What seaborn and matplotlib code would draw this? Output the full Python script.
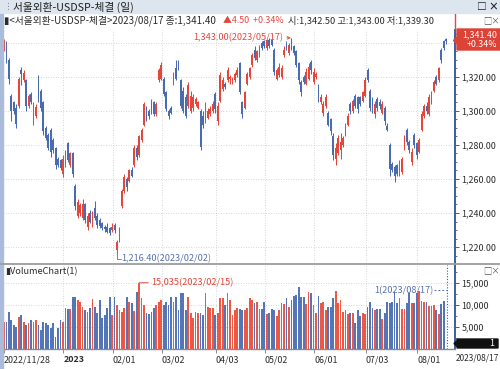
import numpy as np
import pandas as pd
import seaborn as sns
import matplotlib.pyplot as plt
from matplotlib.patches import Rectangle, Polygon
from matplotlib.lines import Line2D

# --- data (USD/KRW daily, 2022/11/28 - 2023/08/17) ---
holidays = ['2023-01-23', '2023-01-24', '2023-03-01', '2023-05-01',
            '2023-05-05', '2023-05-29', '2023-06-06', '2023-08-15']
dates = pd.bdate_range('2022-11-28', '2023-08-17').difference(pd.DatetimeIndex(holidays))

open_ = [
    1336, 1340, 1330, 1309, 1305, 1302, 1303, 1324, 1318, 1318,
    1303, 1310, 1294, 1297, 1320, 1312, 1305, 1290, 1286, 1289,
    1283, 1278, 1272, 1271, 1263, 1268, 1281, 1268, 1275, 1256,
    1238, 1240, 1237, 1245, 1232, 1240, 1233, 1243, 1238, 1236,
    1234, 1232, 1232, 1231, 1230, 1233, 1218, 1224, 1244, 1253,
    1260, 1259, 1265, 1268, 1278, 1274, 1283, 1292, 1302, 1300,
    1306, 1305, 1298, 1318, 1319, 1319, 1311, 1300, 1302, 1316,
    1325, 1329, 1318, 1312, 1308, 1303, 1300, 1302, 1304, 1302,
    1300, 1297, 1294, 1296, 1298, 1300, 1310, 1294, 1306, 1313,
    1316, 1318, 1319, 1318, 1318, 1321, 1328, 1305, 1302, 1316,
    1320, 1327, 1336, 1330, 1333, 1340, 1341, 1337, 1342, 1342,
    1336, 1319, 1321, 1320, 1333, 1339, 1334, 1342, 1338, 1335,
    1328, 1317, 1320, 1316, 1319, 1329, 1317, 1320, 1315, 1305,
    1299, 1303, 1299, 1295, 1285, 1272, 1275, 1277, 1280, 1286,
    1292, 1304, 1300, 1309, 1308, 1308, 1306, 1309, 1324, 1312,
    1306, 1298, 1307, 1305, 1299, 1302, 1291, 1280, 1269, 1267,
    1268, 1263, 1264, 1278, 1289, 1282, 1270, 1286, 1281, 1276,
    1289, 1297, 1303, 1298, 1305, 1312, 1320, 1318, 1336, 1341,
    1342.5]
high = [
    1342.6, 1341, 1331, 1310, 1306, 1304, 1320, 1326, 1324, 1319,
    1310, 1311, 1305, 1304, 1321, 1313, 1306, 1291, 1287, 1290,
    1284, 1279, 1273, 1272, 1274, 1277, 1282, 1276, 1276, 1257,
    1248, 1246, 1248, 1246, 1240, 1242, 1241, 1247, 1240, 1237,
    1235, 1233, 1234, 1232, 1234, 1234, 1224, 1232, 1254, 1263,
    1261, 1266, 1267, 1280, 1280, 1286, 1290, 1305, 1303, 1301,
    1307, 1306, 1305, 1325, 1329, 1320, 1312, 1301, 1303, 1323,
    1330, 1330, 1319, 1314, 1310, 1317, 1312, 1310, 1308, 1306,
    1301, 1300, 1305, 1302, 1303, 1306, 1311, 1305, 1323, 1320,
    1317, 1326, 1321, 1320, 1323, 1326, 1329, 1306, 1312, 1323,
    1326, 1334, 1338, 1336, 1339, 1341, 1342, 1342.6, 1342.8, 1342.5,
    1337, 1325, 1328, 1327, 1338, 1341, 1340, 1343, 1339, 1336,
    1329, 1318, 1321, 1325, 1328, 1330, 1325, 1323, 1316, 1310,
    1306, 1310, 1300, 1296, 1287, 1281, 1286, 1287, 1285, 1293,
    1299, 1305, 1307, 1310, 1309, 1309, 1312, 1320, 1325, 1313,
    1308, 1306, 1308, 1307, 1306, 1303, 1293, 1281, 1270, 1268,
    1269, 1271, 1273, 1286, 1290, 1283, 1278, 1287, 1282, 1284,
    1300, 1304, 1305, 1310, 1312, 1318, 1321, 1326, 1337, 1342,
    1343.0]
low = [
    1335, 1328, 1316, 1294, 1298, 1290, 1302, 1315, 1317, 1300,
    1302, 1304, 1292, 1296, 1305, 1300, 1286, 1283, 1277, 1273,
    1275, 1266, 1267, 1265, 1261, 1267, 1270, 1267, 1261, 1242,
    1237, 1238, 1236, 1234, 1230, 1234, 1232, 1236, 1231, 1231,
    1230, 1229, 1228, 1227, 1229, 1228, 1216.4, 1223, 1243, 1252,
    1253, 1258, 1261, 1267, 1271, 1273, 1282, 1291, 1294, 1295,
    1298, 1297, 1297, 1317, 1318, 1309, 1300, 1295, 1298, 1315,
    1318, 1324, 1302, 1299, 1296, 1302, 1299, 1300, 1303, 1301,
    1277, 1290, 1293, 1295, 1297, 1299, 1299, 1292, 1305, 1312,
    1313, 1317, 1316, 1316, 1317, 1320, 1310, 1296, 1301, 1315,
    1319, 1326, 1330, 1329, 1332, 1336, 1337, 1336, 1337, 1338,
    1321, 1318, 1320, 1319, 1332, 1336, 1333, 1336, 1333, 1326,
    1316, 1309, 1316, 1315, 1318, 1322, 1316, 1319, 1305, 1304,
    1297, 1302, 1291, 1286, 1271, 1268, 1274, 1272, 1279, 1285,
    1291, 1298, 1299, 1302, 1299, 1303, 1305, 1308, 1317, 1300,
    1299, 1296, 1300, 1301, 1298, 1292, 1288, 1262, 1264, 1258,
    1262, 1262, 1263, 1277, 1280, 1275, 1268, 1278, 1272, 1275,
    1288, 1296, 1298, 1297, 1304, 1311, 1315, 1317, 1328, 1336,
    1339.3]
close = [
    1340.2, 1329.3, 1318.8, 1299.7, 1299.9, 1292.6, 1318.8, 1321.7, 1322.5, 1302.9,
    1309.0, 1305.2, 1303.1, 1302.4, 1306.3, 1301.5, 1288.0, 1284.2, 1278.4, 1276.1,
    1277.0, 1268.3, 1268.5, 1266.2, 1272.0, 1275.3, 1271.4, 1275.0, 1263.2, 1244.0,
    1246.2, 1244.5, 1245.4, 1236.1, 1238.2, 1235.0, 1240.1, 1237.3, 1233.0, 1232.2,
    1231.1, 1230.4, 1229.1, 1228.3, 1232.0, 1230.0, 1223.0, 1230.2, 1252.8, 1261.0,
    1255, 1265, 1262, 1278, 1273, 1285, 1289, 1304, 1296, 1297,
    1299, 1298, 1304, 1324, 1327, 1310, 1301, 1297, 1299, 1322,
    1319, 1325, 1303, 1300, 1297, 1315, 1309, 1308, 1307, 1305,
    1279, 1292, 1303, 1300, 1301, 1304, 1301, 1303, 1321, 1318,
    1314, 1324, 1320, 1319, 1322, 1324, 1311, 1298, 1311, 1322,
    1325, 1333, 1331, 1335, 1338, 1337, 1338, 1342, 1338, 1339,
    1323, 1324, 1326, 1325, 1336, 1337, 1339, 1337, 1334, 1327,
    1318, 1311, 1317, 1323, 1326, 1324, 1323, 1322, 1307, 1308,
    1304, 1308, 1292, 1288, 1274, 1278, 1284, 1282, 1284, 1291,
    1297, 1300, 1306, 1303, 1301, 1304, 1311, 1318, 1318, 1302,
    1301, 1304, 1302, 1303, 1304, 1294, 1289, 1266, 1265, 1262,
    1263, 1269, 1272, 1284, 1282, 1277, 1276, 1280, 1274, 1283,
    1298, 1303, 1300, 1308, 1311, 1317, 1316, 1325, 1330, 1336.9,
    1341.4]
volume = [
    6200, 6050, 8470, 6580, 5450, 5070, 7340, 7720, 6200, 5450,
    5830, 6580, 6200, 6580, 5450, 4310, 6200, 5980, 5450, 4690,
    5830, 2800, 4690, 6580, 6200,
    9230, 9000, 9000, 11880, 11880, 11130, 10750, 9610, 8850, 8470,
    9230, 11280, 9610, 8100, 11130, 6960, 7720, 9230, 11730, 7720,
    11730, 10000, 8850, 8470, 9230, 11730, 10750, 10370, 8700, 12870,
    15035, 11500, 10000, 8100, 7950, 8470, 9230, 9990, 10600, 11130,
    9990, 10750, 9990, 11730, 10750, 11730, 8850, 12640, 12640, 8850,
    11880, 8100, 6960, 8470, 8100, 8250, 7720, 12640, 9610, 9230,
    9230, 7720,
    8100, 11650, 11500, 9990, 12640, 11130, 7720, 8850, 9230, 9000,
    8850, 8850, 9230,
    11500, 11130, 10520, 10750, 9000, 9000, 10750, 7870, 8250, 9000,
    8850, 7570, 8850, 10370, 10220, 11500, 9610, 11130, 12040, 12260,
    14000, 11880, 11730, 10140, 13040, 12640, 9990, 8250, 12040, 10370,
    10750, 8850, 9610, 9610, 11500, 13270, 10370, 11130, 8470, 8850,
    7950, 8100, 8250, 6000, 8850, 7570, 8100, 7950, 9610, 10750,
    9230, 8850, 9000, 9000, 6730, 8100, 10600, 10370, 10750, 12870,
    10370, 11500, 9000, 9000, 10370, 12640, 10520, 10520, 12640, 13170,
    10900, 10750, 10750, 9840, 9760, 9990, 8780, 7870, 10140, 10900,
    1]

tick_dates = ['2022-11-28', '2023-01-02', '2023-02-01', '2023-03-02', '2023-04-03',
              '2023-05-02', '2023-06-01', '2023-07-03', '2023-08-01']
tick_labels = ['2022/11/28', '2023', '02/01', '03/02', '04/03',
               '05/02', '06/01', '07/03', '08/01']
price_ticks = [1220, 1240, 1260, 1280, 1300, 1320, 1340]
vol_ticks = [5000, 10000, 15000]

o, h, l, c, v = (np.array(a, dtype=float) for a in (open_, high, low, close, volume))
n = len(c)
idx = np.arange(n)

RED = '#e4463b'
BLUE = '#4a6bb0'
RED_V = '#ec5846'
BLUE_V = '#5475b8'
AXIS_BLUE = '#3d5d9e'
GRID = '#c9c9c9'
TXT = '#2b2b2b'

sns.set_style('white')
plt.rcParams['font.family'] = ['Noto Sans CJK KR', 'DejaVu Sans']
plt.rcParams['axes.unicode_minus'] = False

W, H = 500, 369
fig = plt.figure(figsize=(W / 100, H / 100), dpi=100)


def fx(x):
    return x / W


def fy(y):
    return 1 - y / H


ax = fig.add_axes([fx(3), fy(263), 452 / W, (263 - 30) / H])
vax = fig.add_axes([fx(3), fy(349), 452 / W, (349 - 265) / H])

x_left, x_right = -0.41, 183.6

# --- candles ---
up = c >= o
cols = np.where(up, RED, BLUE)
ax.vlines(idx, l, h, colors=cols, lw=0.75, zorder=3)
ax.bar(idx, np.maximum(np.abs(c - o), 0.5), bottom=np.minimum(o, c), width=0.72,
       color=cols, linewidth=0, zorder=4)
ax.set_xlim(x_left, x_right)
ax.set_ylim(1210.6, 1347.6)

# --- volume ---
vdf = pd.DataFrame({'x': idx, 'vol': v, 'dir': np.where(up, 'up', 'down')})
sns.barplot(data=vdf, x='x', y='vol', hue='dir', palette={'up': RED_V, 'down': BLUE_V},
            native_scale=True, width=0.72, dodge=False, legend=False, errorbar=None,
            saturation=1, linewidth=0, ax=vax, zorder=3)
vax.set_xlim(x_left, x_right)
vax.set_ylim(0, 19070)
vax.set_xlabel('')
vax.set_ylabel('')

# --- grids / date ticks ---
tpos = [dates.get_loc(pd.Timestamp(d)) for d in tick_dates]
tpos = [tpos[0]] + [p - 0.8 for p in tpos[1:]]
for a in (ax, vax):
    for p in tpos[1:]:
        a.axvline(p, color=GRID, lw=0.6, ls=(0, (1, 2)), zorder=1)
for y in price_ticks:
    ax.axhline(y, color=GRID, lw=0.6, ls=(0, (1, 2)), zorder=1)
for y in vol_ticks:
    vax.axhline(y, color=GRID, lw=0.6, ls=(0, (1, 2)), zorder=1)

for a in (ax, vax):
    for s in ('left', 'top', 'bottom'):
        a.spines[s].set_visible(False)
    a.spines['right'].set_color(AXIS_BLUE)
    a.spines['right'].set_linewidth(1.4)
    a.yaxis.tick_right()
vax.spines['bottom'].set_visible(True)
vax.spines['bottom'].set_color('#8a8a8a')
vax.spines['bottom'].set_linewidth(1.0)

ax.set_xticks([])
ax.set_yticks(price_ticks)
# the top label sits under the last-price tag, so it is left blank
ax.set_yticklabels([f'{t:,.2f}' if t < 1340 else '' for t in price_ticks])
ax.set_yticks(np.arange(1215, 1346, 5), minor=True)
ax.tick_params(axis='y', which='major', length=3, width=0.7, color=AXIS_BLUE,
               labelsize=6.4, labelcolor=TXT, pad=1.5)
ax.tick_params(axis='y', which='minor', length=1.6, width=0.6, color=AXIS_BLUE)

vax.set_yticks(vol_ticks)
vax.set_yticklabels([f'{t:,.0f}' for t in vol_ticks])
vax.set_yticks(np.arange(2500, 19000, 2500), minor=True)
vax.tick_params(axis='y', which='major', length=3, width=0.7, color=AXIS_BLUE,
                labelsize=6.4, labelcolor=TXT, pad=1.5)
vax.tick_params(axis='y', which='minor', length=1.6, width=0.6, color=AXIS_BLUE)
vax.set_xticks(tpos)
vax.set_xticklabels(tick_labels)
vax.tick_params(axis='x', length=3, width=0.7, color='#8a8a8a', labelsize=6.4,
                labelcolor=TXT, pad=1.5, bottom=True)
for lab in vax.get_xticklabels():
    lab.set_horizontalalignment('left')
    if lab.get_text() == '2023':
        lab.set_fontweight('bold')

# current bar marker in the volume pane
vax.axvline(n - 1 + 0.3, color=AXIS_BLUE, lw=0.8, ls=(0, (1, 1.5)), zorder=2)

# --- annotations ---
ANN_BLUE = '#5a72aa'
imax = int(np.argmax(h))
ax.annotate(f'{h[imax]:,.2f}({dates[imax]:%Y/%m/%d})', xy=(imax - 0.2, h[imax]),
            xytext=(imax - 3.2, h[imax]), ha='right', va='center', fontsize=6.6,
            color=RED, arrowprops=dict(arrowstyle='->', color=RED, lw=0.6,
                                       shrinkA=0, shrinkB=0, mutation_scale=5))
imin = int(np.argmin(l))
y_lo = l[imin] - 3.3
ax.plot([imin, imin, imin + 1.7], [l[imin], y_lo, y_lo], color=ANN_BLUE, lw=0.6, zorder=5)
ax.text(imin + 1.9, y_lo, f'{l[imin]:,.2f}({dates[imin]:%Y/%m/%d})', ha='left',
        va='center', fontsize=6.6, color=ANN_BLUE)

ivmax = int(np.argmax(v))
vax.annotate(f'{v[ivmax]:,.0f}({dates[ivmax]:%Y/%m/%d})', xy=(ivmax, v[ivmax]),
             xytext=(ivmax + 5.0, v[ivmax]), ha='left', va='center', fontsize=6.6,
             color=RED, arrowprops=dict(arrowstyle='-', color=RED, lw=0.7,
                                        shrinkA=0, shrinkB=0))
y_last = 13300
vax.text(n - 6.3, y_last, f'{v[-1]:,.0f}({dates[-1]:%Y/%m/%d})', ha='right',
         va='center', fontsize=6.6, color=ANN_BLUE)
vax.plot([n - 6.0, n - 1 + 0.3], [y_last, y_last], color=ANN_BLUE, lw=0.7,
         ls=(0, (2, 2)), zorder=5)

# --- window chrome ---
fig.add_artist(Rectangle((0, fy(13)), 1, 13 / H, transform=fig.transFigure,
                         color='#dde5ef', zorder=0))
fig.add_artist(Rectangle((0, 0), fx(3), fy(14), transform=fig.transFigure,
                         color='#a9bddb', zorder=6))
fig.add_artist(Line2D([0, 1], [fy(264), fy(264)], transform=fig.transFigure,
                      color='#9c9c9c', lw=1.3, zorder=6))
fig.text(fx(4), fy(7), '⋮', fontsize=6.5, color='#888888', va='center')
fig.text(fx(13), fy(7), '서울외환-USDSP-체결 (일)', fontsize=7.7, color='#1e1e1e', va='center')
fig.text(fx(477), fy(7), '□ ×', fontsize=7, color='#222222', va='center', fontweight='bold')

fig.text(fx(4), fy(20.5), '▮<서울외환-USDSP-체결>2023/08/17 종:1,341.40', fontsize=7.0,
         color=TXT, va='center')
fig.text(fx(223), fy(20.5), '▲4.50  +0.34%', fontsize=6.4, color=RED, va='center')
fig.text(fx(288), fy(20.5), '시:1,342.50 고:1,343.00 저:1,339.30', fontsize=6.7,
         color=TXT, va='center')
fig.text(fx(483), fy(20.5), '□×', fontsize=6, color='#555555', va='center')
fig.add_artist(Line2D([fx(455), fx(455)], [fy(14), fy(29)], transform=fig.transFigure,
                      color=RED, lw=1.0, zorder=6))

fig.text(fx(5), fy(271.5), '▮VolumeChart(1)', fontsize=6.6, color=TXT, va='center')
fig.text(fx(483), fy(270.5), '□×', fontsize=6, color='#555555', va='center')

# price tag (last close)
pts = [(453.5, 40.5), (457, 37), (457, 29), (500, 29), (500, 50), (457, 50), (457, 44)]
fig.add_artist(Polygon([(fx(x), fy(y)) for x, y in pts], closed=True,
                       transform=fig.transFigure, color='#dc4236', zorder=7))
fig.text(fx(497), fy(35), f'{c[-1]:,.2f}', ha='right', va='center', fontsize=6.4,
         color='white', zorder=8)
fig.text(fx(497), fy(44.5), f'+{(c[-1] - c[-2]) / c[-2] * 100:.2f}%', ha='right',
         va='center', fontsize=6.4, color='white', zorder=8)

# volume tag (current volume)
pts = [(454, 343.5), (457, 340.5), (457, 339), (498, 339), (498, 348), (457, 348),
       (457, 346.5)]
fig.add_artist(Polygon([(fx(x), fy(y)) for x, y in pts], closed=True,
                       transform=fig.transFigure, color='#111111', zorder=7))
fig.text(fx(494), fy(343.5), f'{v[-1]:,.0f}', ha='right', va='center', fontsize=6.4,
         color='white', zorder=8)

fig.text(fx(499), fy(358), f'{dates[-1]:%Y/%m/%d}', ha='right', va='center',
         fontsize=6.0, color=TXT)

fig.savefig('out.png', dpi=100, facecolor='white')
